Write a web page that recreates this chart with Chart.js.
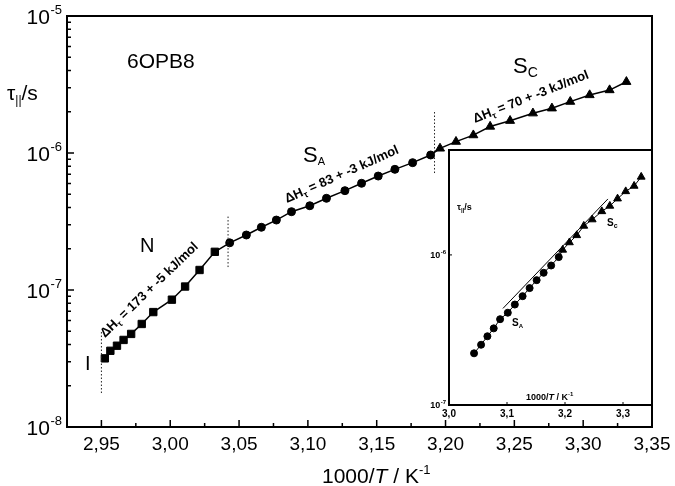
<!DOCTYPE html>
<html lang="en">
<head>
  <meta charset="UTF-8" />
  <title>6OPB8 relaxation time</title>
  <script src="https://cdn.jsdelivr.net/npm/chart.js"></script>
  <style>
    body { margin: 0; background: #fff; }
    #wrap { position: relative; width: 675px; height: 486px; }
    #main { position: absolute; left: 0; top: 0; }
    #inset { position: absolute; left: 410px; top: 140px; }
  </style>
</head>
<body>
  <div id="wrap">
    <canvas id="main" width="675" height="486"></canvas>
    <canvas id="inset" width="255" height="290"></canvas>
  </div>

  <script>
    // nematic (squares), smectic A (circles), smectic C (triangles)
    const nX = [2.9525, 2.9565, 2.9613, 2.9661, 2.9716, 2.9793, 2.9877, 3.0012, 3.0108, 3.0213, 3.0324];
    const nTau = [3.17e-8, 3.6e-8, 3.92e-8, 4.32e-8, 4.78e-8, 5.65e-8, 6.9e-8, 8.5e-8, 1.06e-7, 1.40e-7, 1.90e-7];
    const saX = [3.0432, 3.0553, 3.0662, 3.0771, 3.0881, 3.1014, 3.1135, 3.1269, 3.139, 3.1511, 3.1632, 3.1761, 3.1892];
    const saTau = [2.21e-7, 2.52e-7, 2.87e-7, 3.24e-7, 3.73e-7, 4.12e-7, 4.67e-7, 5.31e-7, 6.01e-7, 6.79e-7, 7.60e-7, 8.5e-7, 9.67e-7];
    const scX = [3.196, 3.2076, 3.2202, 3.2324, 3.2469, 3.2635, 3.2773, 3.2906, 3.3047, 3.3192, 3.3314];
    const scTau = [1.08e-6, 1.21e-6, 1.35e-6, 1.56e-6, 1.72e-6, 1.95e-6, 2.12e-6, 2.37e-6, 2.65e-6, 2.88e-6, 3.31e-6];

    // phase transitions (dotted lines)
    const transX = [2.95, 3.042, 3.192];
    const transLow = [1.77e-8, 1.47e-7, 7.14e-7];
    const transHigh = [5.1e-8, 3.52e-7, 2.06e-6];

    // ticks
    const xTicks = [2.95, 3.00, 3.05, 3.10, 3.15, 3.20, 3.25, 3.30, 3.35];
    const xTickLabels = ['2,95', '3,00', '3,05', '3,10', '3,15', '3,20', '3,25', '3,30', '3,35'];
    const xMinor = [2.975, 3.025, 3.075, 3.125, 3.175, 3.225, 3.275, 3.325];
    const yTicks = [1e-8, 1e-7, 1e-6, 1e-5];
    const yTickExp = ['-8', '-7', '-6', '-5'];
    const yMinor = [2e-8, 3e-8, 4e-8, 5e-8, 6e-8, 7e-8, 8e-8, 9e-8,
                    2e-7, 3e-7, 4e-7, 5e-7, 6e-7, 7e-7, 8e-7, 9e-7,
                    2e-6, 3e-6, 4e-6, 5e-6, 6e-6, 7e-6, 8e-6, 9e-6];

    // inset
    const insetXTicks = [3.0, 3.1, 3.2, 3.3];
    const insetXLabels = ['3,0', '3,1', '3,2', '3,3'];
    const insetYTicks = [1e-7, 1e-6];
    const insetYExp = ['-7', '-6'];
    const insetFitX = [3.093, 3.274];
    const insetFitTau = [4.4e-7, 2.36e-6];

    const pts = (xs, ys) => xs.map((x, i) => ({ x: x, y: ys[i] }));
    const FONT = "'Liberation Sans', Arial, sans-serif";

    function supText(ctx, base, sup, xRight, yBase, size, supSize, bold) {
      const w = bold ? 'bold ' : '';
      ctx.font = w + supSize + 'px ' + FONT;
      const sw = ctx.measureText(sup).width;
      ctx.textAlign = 'right';
      ctx.fillText(sup, xRight, yBase - size * 0.45);
      ctx.font = w + size + 'px ' + FONT;
      ctx.fillText(base, xRight - sw - 0.5, yBase);
    }

    // draw a run of [text, size, dy, italic] pieces starting at x,y
    function runs(ctx, parts, x, y, bold) {
      ctx.textAlign = 'left';
      let cx = x;
      parts.forEach(p => {
        ctx.font = (p[3] ? 'italic ' : '') + (bold ? 'bold ' : '') + p[1] + 'px ' + FONT;
        ctx.fillText(p[0], cx, y + p[2]);
        cx += ctx.measureText(p[0]).width;
      });
    }

    function frame(cfg) {
      return {
        id: 'frame',
        beforeDatasetsDraw(chart) {
          if (!cfg.fill) return;
          const { ctx, chartArea: a } = chart;
          ctx.save();
          ctx.fillStyle = '#fff';
          ctx.fillRect(a.left, a.top, a.right - a.left, a.bottom - a.top);
          ctx.restore();
        },
        afterDraw(chart) {
          const { ctx, chartArea: a, scales } = chart;
          const sx = scales.x, sy = scales.y;
          ctx.save();
          ctx.strokeStyle = '#000';
          ctx.fillStyle = '#000';
          ctx.lineWidth = cfg.lw;
          ctx.strokeRect(a.left, a.top, a.right - a.left, a.bottom - a.top);
          ctx.lineWidth = cfg.tw;
          ctx.beginPath();
          cfg.xTicks.forEach(v => { const p = sx.getPixelForValue(v); ctx.moveTo(p, a.bottom); ctx.lineTo(p, a.bottom - cfg.major); });
          cfg.xMinor.forEach(v => { const p = sx.getPixelForValue(v); ctx.moveTo(p, a.bottom); ctx.lineTo(p, a.bottom - cfg.minor); });
          cfg.yTicks.forEach(v => { const p = sy.getPixelForValue(v); ctx.moveTo(a.left, p); ctx.lineTo(a.left + cfg.major, p); });
          cfg.yMinor.forEach(v => { const p = sy.getPixelForValue(v); ctx.moveTo(a.left, p); ctx.lineTo(a.left + cfg.minor, p); });
          ctx.stroke();

          ctx.textBaseline = 'alphabetic';
          ctx.font = (cfg.bold ? 'bold ' : '') + cfg.xSize + 'px ' + FONT;
          ctx.textAlign = 'center';
          cfg.xTicks.forEach((v, i) => {
            ctx.fillText(cfg.xLabels[i], sx.getPixelForValue(v), a.bottom + cfg.xGap);
          });
          cfg.yTicks.forEach((v, i) => {
            supText(ctx, '10', cfg.yExp[i], a.left - cfg.yGap, sy.getPixelForValue(v) + cfg.ySize * 0.36,
                    cfg.ySize, cfg.ySupSize, cfg.bold);
          });
          if (cfg.extra) cfg.extra(ctx, chart);
          ctx.restore();
        }
      };
    }

    function rotText(ctx, parts, x, y, deg) {
      ctx.save();
      ctx.translate(x, y);
      ctx.rotate(deg * Math.PI / 180);
      runs(ctx, parts, 0, 0, true);
      ctx.restore();
    }

    function mainExtra(ctx) {
      ctx.fillStyle = '#000';
      runs(ctx, [['6OPB8', 21, 0]], 127, 68);
      runs(ctx, [['\u03c4', 21, 0], ['||', 12, 4], ['/s', 21, 0]], 7, 100);
      runs(ctx, [['N', 20, 0]], 140, 252);
      runs(ctx, [['I', 20, 0]], 85, 370);
      runs(ctx, [['S', 22, 0], ['A', 11, 3]], 303, 162);
      runs(ctx, [['S', 22, 0], ['C', 14, 4]], 513, 73);
      runs(ctx, [['1000/', 21, 0], ['T', 21, 0, true], [' / K', 21, 0], ['-1', 13, -9]], 322, 483);
      const dh = v => [['\u0394H', 13, 0], ['\u03c4', 9, 3], [' = ' + v + ' kJ/mol', 13, 0]];
      rotText(ctx, dh('173 + -5'), 105, 338, -44);
      rotText(ctx, dh('83 + -3'), 287, 203, -24);
      rotText(ctx, dh('70 + -3'), 475, 123, -21.5);
    }

    function insetExtra(ctx) {
      ctx.fillStyle = '#000';
      // canvas offset is (410,140)
      runs(ctx, [['\u03c4', 9, 0], ['||', 6, 2], ['/s', 9, 0]], 457 - 410, 210 - 140, true);
      runs(ctx, [['S', 10, 0], ['c', 7, 2]], 607 - 410, 226 - 140, true);
      runs(ctx, [['S', 10, 0], ['A', 6, 2]], 512 - 410, 326 - 140, true);
      runs(ctx, [['1000/', 9, 0], ['T', 9, 0, true], [' / K', 9, 0], ['-1', 6, -4]], 526 - 410, 400 - 140, true);
    }

    const lineAll = pts(nX.concat(saX, scX), nTau.concat(saTau, scTau));
    const transSets = transX.map((x, i) => ({
      data: [{ x: x, y: transLow[i] }, { x: x, y: transHigh[i] }],
      showLine: true, borderColor: '#222', borderWidth: 1, borderDash: [1.5, 2], pointRadius: 0
    }));

    new Chart(document.getElementById('main'), {
      type: 'scatter',
      data: {
        datasets: [
          { data: lineAll, showLine: true, borderColor: '#000', borderWidth: 1.5, pointRadius: 0 },
          ...transSets,
          { data: pts(nX, nTau), pointStyle: 'rect', pointRadius: 5.2, backgroundColor: '#000', borderColor: '#000' },
          { data: pts(saX, saTau), pointStyle: 'circle', pointRadius: 4, backgroundColor: '#000', borderColor: '#000' },
          { data: pts(scX, scTau), pointStyle: 'triangle', pointRadius: 5.2, backgroundColor: '#000', borderColor: '#000' }
        ]
      },
      options: {
        responsive: false,
        animation: false,
        devicePixelRatio: 1,
        layout: { padding: { left: 67, top: 16, right: 23, bottom: 59 } },
        scales: {
          x: { type: 'linear', min: 2.925, max: 3.35, display: false },
          y: { type: 'logarithmic', min: 1e-8, max: 1e-5, display: false }
        },
        plugins: { legend: { display: false }, tooltip: { enabled: false } }
      },
      plugins: [frame({
        fill: false, lw: 2, tw: 1.5, major: 7, minor: 4,
        xTicks: xTicks, xLabels: xTickLabels, xMinor: xMinor,
        yTicks: yTicks, yExp: yTickExp, yMinor: yMinor,
        xSize: 19, xGap: 23, ySize: 21, ySupSize: 13, yGap: 5, bold: false,
        extra: mainExtra
      })]
    });

    new Chart(document.getElementById('inset'), {
      type: 'scatter',
      data: {
        datasets: [
          { data: pts(saX.concat(scX), saTau.concat(scTau)), showLine: true, borderColor: '#000', borderWidth: 1, pointRadius: 0 },
          { data: pts(insetFitX, insetFitTau), showLine: true, borderColor: '#000', borderWidth: 1, pointRadius: 0 },
          { data: pts(saX, saTau), pointStyle: 'circle', pointRadius: 3.5, backgroundColor: '#000', borderColor: '#000' },
          { data: pts(scX, scTau), pointStyle: 'triangle', pointRadius: 4.5, backgroundColor: '#000', borderColor: '#000' }
        ]
      },
      options: {
        responsive: false,
        animation: false,
        devicePixelRatio: 1,
        layout: { padding: { left: 39, top: 10, right: 13, bottom: 25 } },
        scales: {
          x: { type: 'linear', min: 3.0, max: 3.35, display: false },
          y: { type: 'logarithmic', min: 1e-7, max: 5e-6, display: false }
        },
        plugins: { legend: { display: false }, tooltip: { enabled: false } }
      },
      plugins: [frame({
        fill: true, lw: 2, tw: 1, major: 3, minor: 0,
        xTicks: insetXTicks, xLabels: insetXLabels, xMinor: [],
        yTicks: insetYTicks, yExp: insetYExp, yMinor: [],
        xSize: 10, xGap: 12, ySize: 9, ySupSize: 6, yGap: 3, bold: true,
        extra: insetExtra
      })]
    });
  </script>
</body>
</html>
